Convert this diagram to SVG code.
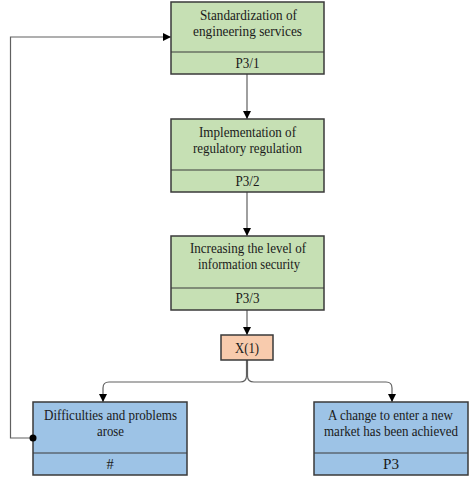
<svg xmlns="http://www.w3.org/2000/svg" width="474" height="480" viewBox="0 0 474 480">
<style>
.box{stroke:#3a3a3a;stroke-width:1.5}
.g{fill:#c6e0b4}.b{fill:#9dc3e6}.o{fill:#f8cbad}
.div{stroke:#3a3a3a;stroke-width:1}
text{font-family:"Liberation Serif","Times New Roman",serif;font-size:14.5px;fill:#1a1a1a;text-anchor:middle}
.c{fill:none;stroke:#606060;stroke-width:1.2}
</style>
<defs>
<marker id="ar" viewBox="0 0 10 10" refX="10" refY="5" markerWidth="8" markerHeight="8" markerUnits="userSpaceOnUse" orient="auto"><path d="M0,0L10,5L0,10z" fill="#000"/></marker>
</defs>
<rect width="474" height="480" fill="#fff"/>
<g id="connectors">
<path class="c" d="M247,74V119" marker-end="url(#ar)"/>
<path class="c" d="M247,192V236" marker-end="url(#ar)"/>
<path class="c" d="M247,310V335" marker-end="url(#ar)"/>
<path class="c" d="M246.5,360V376Q246.5,382 240,382H109Q103,382 103,388V402" marker-end="url(#ar)"/>
<path class="c" d="M247.5,360V376Q247.5,382 254,382H386Q392,382 392,388V402" marker-end="url(#ar)"/>
<path class="c" d="M33,438H10.5V37H171" marker-end="url(#ar)"/>
</g>
<g id="n1">
<rect class="box g" x="171" y="2" width="153" height="72"/>
<line class="div" x1="171" y1="52" x2="324" y2="52"/>
<text x="248.5" y="20" textLength="97" lengthAdjust="spacingAndGlyphs">Standardization of</text>
<text x="247.5" y="36" textLength="109" lengthAdjust="spacingAndGlyphs">engineering services</text>
<text x="247.5" y="68" textLength="24" lengthAdjust="spacingAndGlyphs">P3/1</text>
</g>
<g id="n2">
<rect class="box g" x="171" y="119" width="153" height="73"/>
<line class="div" x1="171" y1="170" x2="324" y2="170"/>
<text x="247.5" y="137" textLength="97" lengthAdjust="spacingAndGlyphs">Implementation of</text>
<text x="247.5" y="153" textLength="109" lengthAdjust="spacingAndGlyphs">regulatory regulation</text>
<text x="247.5" y="186" textLength="24" lengthAdjust="spacingAndGlyphs">P3/2</text>
</g>
<g id="n3">
<rect class="box g" x="171" y="236" width="153" height="74"/>
<line class="div" x1="171" y1="288" x2="324" y2="288"/>
<text x="248" y="253" textLength="116" lengthAdjust="spacingAndGlyphs">Increasing the level of</text>
<text x="249" y="269" textLength="102" lengthAdjust="spacingAndGlyphs">information security</text>
<text x="247.5" y="303" textLength="24" lengthAdjust="spacingAndGlyphs">P3/3</text>
</g>
<g id="x1">
<rect class="box o" x="221" y="335" width="52" height="25"/>
<text x="247" y="353" textLength="24" lengthAdjust="spacingAndGlyphs">X(1)</text>
</g>
<g id="n4">
<rect class="box b" x="33" y="402" width="154" height="73"/>
<line class="div" x1="33" y1="453" x2="187" y2="453"/>
<text x="110.5" y="420" textLength="133" lengthAdjust="spacingAndGlyphs">Difficulties and problems</text>
<text x="110.5" y="436" textLength="27" lengthAdjust="spacingAndGlyphs">arose</text>
<text x="110" y="469">#</text>
</g>
<g id="n5">
<rect class="box b" x="314" y="402" width="154" height="73"/>
<line class="div" x1="314" y1="453" x2="468" y2="453"/>
<text x="390.5" y="420" textLength="125" lengthAdjust="spacingAndGlyphs">A change to enter a new</text>
<text x="391" y="436" textLength="134" lengthAdjust="spacingAndGlyphs">market has been achieved</text>
<text x="391" y="469" textLength="16" lengthAdjust="spacingAndGlyphs">P3</text>
</g>
<circle cx="33" cy="438" r="3.5" fill="#000"/>
</svg>
